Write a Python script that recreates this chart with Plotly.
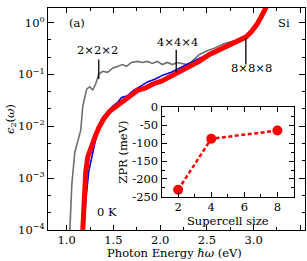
import numpy as np
import plotly.graph_objects as go

# ---- data: eps2 spectra (photon energy eV, log10 eps2) ----
e_222 = [1.034, 1.055, 1.087, 1.119, 1.151, 1.172, 1.194, 1.215, 1.247, 1.279, 1.311, 1.343, 1.385, 1.438,
         1.491, 1.545, 1.598, 1.64, 1.694, 1.757, 1.81, 1.864, 1.917, 1.97, 2.023, 2.077, 2.13, 2.183,
         2.236, 2.289, 2.343, 2.417, 2.502, 2.587, 2.683, 2.79, 2.896, 2.97, 3.034, 3.087, 3.13]
l_222 = [-4.0, -3.12, -2.50, -2.27, -2.07, -1.61, -1.41, -1.28, -1.24, -1.30, -1.18, -0.995, -0.94, -0.96,
         -0.88, -0.845, -0.81, -0.845, -0.77, -0.75, -0.77, -0.75, -0.79, -0.75, -0.81, -0.77, -0.81, -0.77,
         -0.79, -0.81, -0.75, -0.62, -0.545, -0.49, -0.41, -0.357, -0.30, -0.19, -0.02, 0.13, 0.28]

e_444 = [1.183, 1.204, 1.236, 1.268, 1.289, 1.321, 1.353, 1.396, 1.438, 1.491, 1.545, 1.587, 1.651, 1.715,
         1.779, 1.864, 1.949, 2.034, 2.119, 2.204, 2.311, 2.417, 2.523, 2.63, 2.736, 2.843, 2.917, 2.98,
         3.034, 3.087, 3.14]
l_444 = [-4.0, -3.44, -2.87, -2.59, -2.37, -2.16, -1.93, -1.80, -1.73, -1.615, -1.54, -1.446, -1.41, -1.31,
         -1.24, -1.145, -1.09, -1.01, -0.96, -0.88, -0.79, -0.695, -0.60, -0.53, -0.43, -0.34, -0.28, -0.17,
         -0.04, 0.13, 0.32]

e_888 = [1.172, 1.183, 1.204, 1.226, 1.257, 1.30, 1.343, 1.396, 1.46, 1.545, 1.64, 1.757,
         1.843, 1.928, 2.013, 2.098, 2.204, 2.311, 2.417, 2.523, 2.63, 2.736, 2.843, 2.917, 2.98,
         3.034, 3.087, 3.14]
l_888 = [-4.0, -3.44, -2.87, -2.59, -2.40, -2.22, -2.03, -1.86, -1.71, -1.60, -1.465, -1.31,
         -1.26, -1.18, -1.13, -1.05, -0.96, -0.864, -0.75, -0.62, -0.53, -0.43, -0.34, -0.28, -0.17,
         -0.04, 0.13, 0.32]

# ---- inset data ----
supercell = [2, 4, 8]
zpr = [-230, -88, -65]

# ---- labels ----
x_ticks = [1.0, 1.5, 2.0, 2.5, 3.0, 3.5]
y_exps = [-4, -3, -2, -1, 0]
inset_y_ticks = [0, -50, -100, -150, -200, -250]
inset_x_ticks = [2, 4, 6, 8]
size_labels = ["2×2×2", "4×4×4", "8×8×8"]
size_label_pos = [(1.327, -0.526), (2.183, -0.376), (2.98, -0.883)]
leader_x = [1.343, 2.172, 2.917]
leader_y = [(-0.714, -1.089), (-0.526, -0.958), (-0.30, -0.81)]

FONT = "DejaVu Serif"
FS = 11.5
fig = go.Figure()

fig.add_trace(go.Scatter(x=e_222, y=[10 ** v for v in l_222], mode="lines",
                         line=dict(color="#6f6f6f", width=1.6), showlegend=False))
fig.add_trace(go.Scatter(x=e_444, y=[10 ** v for v in l_444], mode="lines",
                         line=dict(color="#0000ee", width=1.6), showlegend=False))
fig.add_trace(go.Scatter(x=e_888, y=[10 ** v for v in l_888], mode="lines",
                         line=dict(color="#ff0000", width=5), showlegend=False))

for lx, (y0, y1) in zip(leader_x, leader_y):
    fig.add_trace(go.Scatter(x=[lx, lx], y=[10 ** y0, 10 ** y1], mode="lines",
                             line=dict(color="black", width=1.3), showlegend=False))

for txt, (px, py) in zip(size_labels, size_label_pos):
    fig.add_annotation(x=px, y=py, xref="x", yref="y", text=txt, showarrow=False,
                       font=dict(size=FS, family=FONT, color="black"))

fig.add_annotation(x=1.109, y=0.0, xref="x", yref="y", text="(a)", showarrow=False,
                   font=dict(size=FS, family=FONT, color="black"))
fig.add_annotation(x=3.32, y=0.0, xref="x", yref="y", text="Si", showarrow=False,
                   font=dict(size=FS, family=FONT, color="black"))
fig.add_annotation(x=1.428, y=-3.66, xref="x", yref="y", text="0 K", showarrow=False,
                   font=dict(size=FS, family=FONT, color="black"))
# main x-axis title
fig.add_annotation(x=0.492, y=-0.105, xref="paper", yref="paper", text="Photon Energy <i>ℏω</i> (eV)",
                   showarrow=False, xanchor="center", yanchor="middle",
                   font=dict(size=FS, family=FONT, color="black"))

# inset
fig.add_trace(go.Scatter(x=supercell, y=zpr, mode="lines+markers", xaxis="x2", yaxis="y2",
                         line=dict(color="#ff0000", width=2.5, dash="4px,2.5px"),
                         marker=dict(color="#ff0000", size=10), showlegend=False))

axis_common = dict(showline=True, linecolor="black", linewidth=1.2, mirror="allticks",
                   ticks="inside", tickcolor="black", showgrid=False, zeroline=False,
                   tickfont=dict(size=FS, family=FONT, color="black"))
title_font = dict(size=FS, family=FONT, color="black")

fig.update_layout(
    width=307, height=261,
    margin=dict(l=48, r=1, t=2, b=31),
    paper_bgcolor="white", plot_bgcolor="white",
    xaxis=dict(range=[0.8, 3.55], tickvals=x_ticks, ticktext=[f"{v:.1f}" for v in x_ticks],
               ticklen=5, ticklabelstandoff=-1,
               minor=dict(ticks="inside", ticklen=3, dtick=0.25, tick0=0.0, tickcolor="black"),
               **axis_common),
    yaxis=dict(type="log", range=[-4, 0.28], tickvals=[10 ** e for e in y_exps],
               ticktext=[f"10<sup>{'−' if e < 0 else ''}{abs(e)}</sup>" for e in y_exps],
               ticklen=6,
               minor=dict(ticks="inside", ticklen=3, tickcolor="black",
                          tickvals=[10 ** (e - f) for e in range(0, -4, -1) for f in (1 / 3, 2 / 3)]),
               title=dict(text="<i>ϵ</i><sub>2</sub>(<i>ω</i>)", standoff=0, font=title_font),
               **axis_common),
    xaxis2=dict(domain=[0.442, 0.957], anchor="y2", range=[1, 9], tickvals=inset_x_ticks,
                ticklen=5, ticklabelstandoff=-1,
                minor=dict(ticks="inside", ticklen=3, dtick=1, tickcolor="black"),
                title=dict(text="Supercell size", standoff=0, font=title_font),
                **axis_common),
    yaxis2=dict(domain=[0.149, 0.553], anchor="x2", range=[-250, 0], tickvals=inset_y_ticks,
                ticktext=[str(v) for v in inset_y_ticks], ticklen=5,
                minor=dict(ticks="inside", ticklen=3, dtick=25, tickcolor="black"),
                title=dict(text="ZPR (meV)", standoff=2, font=title_font),
                **axis_common),
)

fig.write_html("out.html", config={"displayModeBar": False},
               post_script="document.body.style.margin='0';document.body.style.overflow='hidden';")
